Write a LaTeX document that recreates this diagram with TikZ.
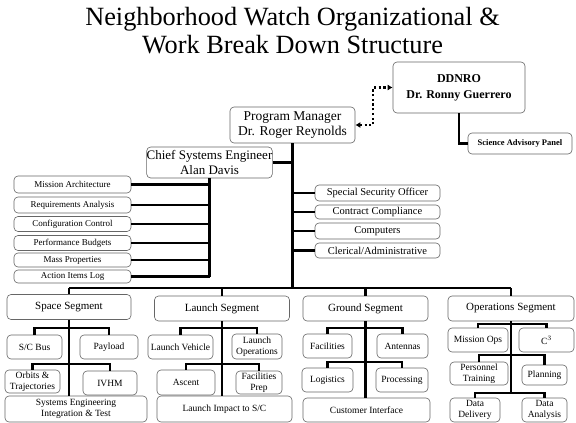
\documentclass[tikz,border=0pt]{standalone}
\usepackage{fontspec}
\setmainfont{Liberation Serif}
\usetikzlibrary{arrows.meta}

\begin{document}
\begin{tikzpicture}[
      x=1pt, y=-1pt,
      box/.style={draw=black!60, line width=0.6pt, rounded corners=4pt, fill=white, align=center, inner sep=1pt},
      sz/.style 2 args={minimum width=#1pt, minimum height=#2pt},
      seg/.style={box, sz={125}{25}, font=\fontsize{11}{12}\selectfont},
      part/.style={box, font=\fontsize{9.5}{10.5}\selectfont},
      duty/.style={box, minimum width=117pt, font=\fontsize{9}{9}\selectfont},
      staff/.style={box, minimum width=125pt, font=\fontsize{10.5}{11}\selectfont},
      link/.style={line width=2.2pt},
      dotlink/.style={line width=2.2pt, dash pattern=on 2.2pt off 2.5pt, {Latex[length=5pt,width=6pt]}-{Latex[length=5pt,width=6pt]}}
    ]
      \useasboundingbox (0,0) rectangle (576,423);
      \node[anchor=north, inner sep=0, align=center, font=\fontsize{26.3}{28}\selectfont] (title) at (292.5,7)
        {Neighborhood Watch Organizational \&\\Work Break Down Structure};

      % management
      \node[box, sz={132}{51}, font=\bfseries\fontsize{12}{16}\selectfont] (ddnro) at (459,87.5) {DDNRO\\Dr. Ronny Guerrero};
      \node[box, sz={104}{21}, font=\bfseries\fontsize{8.5}{9}\selectfont] (sap) at (520,143.5) {Science Advisory Panel};
      \node[box, sz={125}{36}, font=\fontsize{13.5}{15.5}\selectfont] (pm) at (292.5,125) {Program Manager\\Dr. Roger Reynolds};
      \node[box, sz={125}{31}, inner sep=0pt, font=\fontsize{13}{14.5}\selectfont] (cse) at (209.5,162.5) {Chief Systems Engineer\\Alan Davis};

      % systems engineering tasks
      \node[duty, minimum height=17pt] (mission) at (72.5,184.5) {Mission Architecture};
      \node[duty, minimum height=16pt] (req) at (72.5,205) {Requirements Analysis};
      \node[duty, minimum height=15pt] (config) at (72.5,224) {Configuration Control};
      \node[duty, minimum height=15pt] (perf) at (72.5,243) {Performance Budgets};
      \node[duty, minimum height=14pt] (mass) at (72.5,260) {Mass Properties};
      \node[duty, minimum height=13pt] (action) at (72.5,276.5) {Action Items Log};

      % staff
      \node[staff, minimum height=16pt] (sso) at (377.5,193) {Special Security Officer};
      \node[staff, minimum height=14pt] (contract) at (377.5,212) {Contract Compliance};
      \node[staff, minimum height=16pt] (comp) at (377.5,231) {Computers};
      \node[staff, minimum height=15pt] (cler) at (377.5,250.5) {Clerical/Administrative};

      % segments
      \node[seg, minimum width=124pt] (space) at (69,307) {Space Segment};
      \node[seg, minimum width=135pt] (launch) at (222,308.5) {Launch Segment};
      \node[seg] (ground) at (365.5,308.5) {Ground Segment};
      \node[seg, minimum width=126pt] (ops) at (511,308.5) {Operations Segment};

      \node[part, sz={55}{24}] (scbus) at (34.5,347) {S/C Bus};
      \node[part, sz={58}{24}] (payload) at (109,347) {Payload};
      \node[part, sz={55}{23}] (orbits) at (32.5,381.5) {Orbits \&\\Trajectories};
      \node[part, sz={54}{24}] (ivhm) at (110,383) {IVHM};
      \node[part, sz={142}{26}] (seit) at (76,409) {Systems Engineering\\Integration \& Test};

      \node[part, sz={65}{24}] (vehicle) at (180.5,347) {Launch Vehicle};
      \node[part, sz={50}{25}] (lops) at (257,346.5) {Launch\\Operations};
      \node[part, sz={58}{25}] (ascent) at (186,382.5) {Ascent};
      \node[part, sz={46}{23}] (fprep) at (259,382.5) {Facilities\\Prep};
      \node[part, sz={135}{26}] (impact) at (224.5,409) {Launch Impact to S/C};

      \node[part, sz={49}{24}] (fac) at (327.5,346) {Facilities};
      \node[part, sz={51}{24}] (ant) at (402.5,346) {Antennas};
      \node[part, sz={51}{24}] (logi) at (327.5,380) {Logistics};
      \node[part, sz={52}{24}] (proc) at (402,380) {Processing};
      \node[part, sz={127}{24}] (cust) at (366.5,410) {Customer Interface};

      \node[part, sz={60}{24}] (mops) at (478,340) {Mission Ops};
      \node[part, sz={55}{24}] (cthree) at (546.5,340) {C$^3$};
      \node[part, sz={58}{23}] (train) at (479,373.5) {Personnel\\Training};
      \node[part, sz={45}{20}] (plan) at (544.5,375) {Planning};
      \node[part, sz={50}{24}] (ddel) at (475,410) {Data\\Delivery};
      \node[part, sz={45}{24}] (dana) at (544.5,410) {Data\\Analysis};

      \coordinate (bus) at (292.5,288);

      % connectors
      \draw[dotlink] (pm.east) -- ++(18,0) |- (ddnro.west);
      \draw[link] (ddnro.south) |- (sap.west);
      \draw[link] (pm.south) -- (pm.south |- bus);
      \draw[link] (cse.east) -- (cse.east -| pm.south);
      \draw[link] (cse.south) -- (cse.south |- action.east);
      \foreach \n in {mission,req,config,perf,mass,action}
        \draw[link] (\n.east) -- (\n.east -| cse.south);
      \foreach \n in {sso,contract,comp,cler}
        \draw[link] (\n.west) -- (\n.west -| pm.south);

      \draw[link] (space.north |- bus) -- (ops.north |- bus);
      \foreach \n in {space,launch,ground,ops}
        \draw[link] (\n.north |- bus) -- (\n.north);

      \draw[link] (space.south) -- (space.south |- seit.north);
      \draw[link] (scbus.north) -- ++(0,-7) -| (payload.north);
      \draw[link] (orbits.north) -- ++(0,-6) -| (ivhm.north);

      \draw[link] (launch.south) -- (launch.south |- impact.north);
      \draw[link] (vehicle.north) -- ++(0,-7) -| (lops.north);
      \draw[link] (ascent.north) -- ++(0,-6) -| (fprep.north);

      \draw[link] (ground.south) -- (ground.south |- cust.north);
      \draw[link] (fac.north) -- ++(0,-6) -| (ant.north);
      \draw[link] (logi.north) -- ++(0,-6) -| (proc.north);

      \draw[link] (ops.south) -- ++(0,72);
      \draw[link] (mops.north) -- ++(0,-4) -| (cthree.north);
      \draw[link] (train.north) -- ++(0,-7) -| (plan.north);
      \draw[link] (ddel.north) -- ++(0,-5) -| (dana.north);
    \end{tikzpicture}
\end{document}
